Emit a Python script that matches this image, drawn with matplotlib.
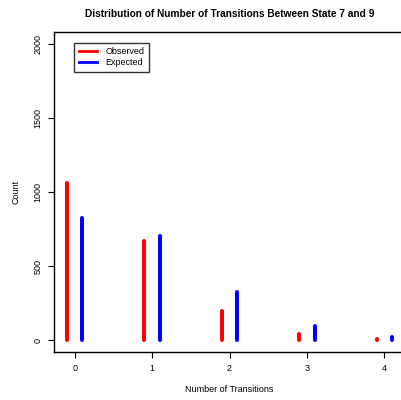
import numpy as np
import matplotlib
matplotlib.use("Agg")
import matplotlib.pyplot as plt

transitions = [0, 1, 2, 3, 4]
observed = [1062, 668, 198, 42, 5]
expected = [822, 705, 323, 98, 22]

plt.rcParams['font.family'] = ['Liberation Sans', 'DejaVu Sans']

fig = plt.figure(figsize=(4.01, 4.0), dpi=100)
# plot region runs a little past the right edge, like the original
ax = fig.add_axes([54 / 401, 48 / 400, 351 / 401, 320 / 400])

x = np.array(transitions)
obs_lines = ax.vlines(x - 0.1, 0, observed, color='red', linewidth=2.9)
exp_lines = ax.vlines(x + 0.1, 0, expected, color='blue', linewidth=2.9)
obs_lines.set_capstyle('round')
exp_lines.set_capstyle('round')

ax.set_xlim(-0.268, 4.268)
ax.set_ylim(-80, 2080)
ax.set_xticks(transitions)
ax.set_yticks([0, 500, 1000, 1500, 2000])
ax.tick_params(axis='both', labelsize=6.5, length=4.5, width=0.8, pad=4)
for lab in ax.get_yticklabels():
    lab.set_rotation(90)
    lab.set_va('center')

for s in ax.spines.values():
    s.set_linewidth(1.0)

ax.set_title('Distribution of Number of Transitions Between State 7 and 9',
             fontsize=7.3, fontweight='bold', pad=11)
ax.set_xlabel('Number of Transitions', fontsize=6.5, labelpad=9)
ax.set_ylabel('Count', fontsize=6.5, labelpad=9)

ax.plot([], [], color='red', linewidth=2, label='Observed')
ax.plot([], [], color='blue', linewidth=2, label='Expected')
leg = ax.legend(loc='upper left', bbox_to_anchor=(0.057, 0.966), fontsize=6.5,
                frameon=True, fancybox=False, edgecolor='black',
                handlelength=2.0, handletextpad=1.0, borderpad=0.5,
                labelspacing=0.2, borderaxespad=0)
leg.get_frame().set_linewidth(1.0)

fig.savefig('out.png', dpi=100)
